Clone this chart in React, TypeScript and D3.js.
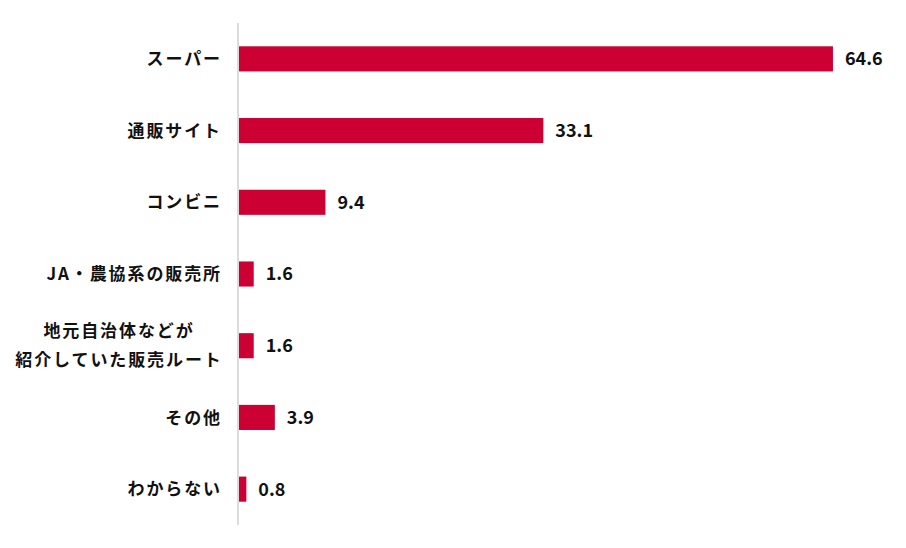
import React from "react";
import * as d3 from "d3";

const categories: string[][] = [
  ["スーパー"],
  ["通販サイト"],
  ["コンビニ"],
  ["JA・農協系の販売所"],
  ["地元自治体などが", "紹介していた販売ルート"],
  ["その他"],
  ["わからない"],
];
const values: number[] = [64.6, 33.1, 9.4, 1.6, 1.6, 3.9, 0.8];
const valueLabels: string[] = ["64.6", "33.1", "9.4", "1.6", "1.6", "3.9", "0.8"];

const W = 906;
const H = 548;
const FONT = "'Noto Sans CJK JP', 'Noto Sans', sans-serif";
const LABEL_SIZE = 17;
const LABEL_SPACING = 1.9;

export default function App() {
  const keys = categories.map((_, i) => String(i));
  const y = d3.scaleBand<string>().domain(keys).range([23, 525]).paddingInner(0.65).paddingOuter(0.325);
  const x = d3.scaleLinear().domain([0, 70]).range([239, 882.6]);
  const rightEdge = 222;

  return (
    <svg width={W} height={H} style={{ position: "absolute", left: 0, top: 0, background: "#fff" }}>
      {values.map((v, i) => {
        const yc = (y(keys[i]) as number) + y.bandwidth() / 2;
        const lines = categories[i];
        const multi = lines.length > 1;
        const maxW = Math.max(...lines.map((l) => l.length * (LABEL_SIZE + LABEL_SPACING)));
        const lx = multi ? rightEdge - maxW / 2 + LABEL_SPACING / 2 : rightEdge;
        return (
          <g key={i}>
            <rect x={x(0)} y={y(keys[i])} width={x(v) - x(0)} height={y.bandwidth()} fill="#CC0033" />
            <text
              x={x(v) + 12}
              y={yc}
              dy="0.36em"
              fontFamily={FONT}
              fontWeight={600}
              fontSize={18}
              fill="#111"
            >
              {valueLabels[i]}
            </text>
            {lines.map((l, j) => (
              <text
                key={j}
                x={lx}
                y={yc + (j - (lines.length - 1) / 2) * 29}
                dy="0.36em"
                textAnchor={multi ? "middle" : "end"}
                fontFamily={FONT}
                fontWeight={700}
                fontSize={LABEL_SIZE}
                letterSpacing={LABEL_SPACING}
                fill="#111"
              >
                {l}
              </text>
            ))}
          </g>
        );
      })}
      <line x1={238} x2={238} y1={23} y2={525} stroke="#d0d0d0" strokeWidth={1.5} />
    </svg>
  );
}
